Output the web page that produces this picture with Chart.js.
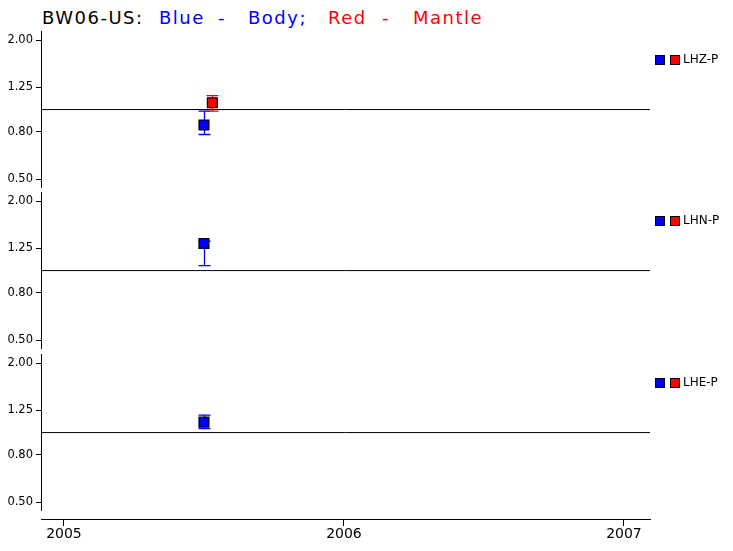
<!DOCTYPE html>
<html>
<head>
<meta charset="utf-8">
<script src="https://cdn.jsdelivr.net/npm/chart.js@4/dist/chart.umd.min.js"></script>
<style>
body { margin: 0; background: #fff; }
#wrap { position: relative; width: 733px; height: 551px; overflow: hidden; }
#wrap canvas { position: absolute; left: 0; }
.t { position: absolute; top: 9px; font: 18px "DejaVu Sans"; line-height: 18px; letter-spacing: 1.5px; white-space: pre; }
</style>
</head>
<body>
<div id="wrap">
  <span class="t" style="left:42px;color:#000">BW06-US:</span>
  <span class="t" style="left:159px;color:#0000ff">Blue</span>
  <span class="t" style="left:218px;color:#0000ff">-</span>
  <span class="t" style="left:248px;color:#0000ff">Body;</span>
  <span class="t" style="left:328px;color:#ff0000">Red</span>
  <span class="t" style="left:382px;color:#ff0000">-</span>
  <span class="t" style="left:413px;color:#ff0000">Mantle</span>
</div>
<script>
// Values (log y scale, one panel per component)
const stations    = ['LHZ-P', 'LHN-P', 'LHE-P'];
const bodyDate    = [2005.50, 2005.50, 2005.50];
const bodyValue   = [0.857, 1.31, 1.11];
const bodyLow     = [0.78, 1.05, 1.04];
const bodyHigh    = [0.985, 1.34, 1.19];
const mantleDate  = [2005.53, null, null];
const mantleValue = [1.07, null, null];
const mantleLow   = [0.985, null, null];
const mantleHigh  = [1.15, null, null];

const yTicks = [0.5, 0.8, 1.25, 2.0];
const xTicks = [2005, 2006, 2007];
const xMin = 2004.918, xMax = 2007.093;
const yMin = 0.462, yMax = 2.19;

const BLUE = '#0000ff';
const RED  = '#ff0000';

Chart.defaults.font.family = '"DejaVu Sans", sans-serif';
Chart.defaults.color = '#000';

// Error bars, drawn just before the markers so the squares sit on top
const errorBars = {
	id: 'errorBars',
	beforeDatasetDraw(chart, args, opts) {
		if (args.index !== 1) return;
		const i = opts.panel;
		const {ctx, scales: {x, y}} = chart;
		const bars = [
			[bodyDate[i], bodyLow[i], bodyHigh[i], BLUE],
			[mantleDate[i], mantleLow[i], mantleHigh[i], RED],
		];
		ctx.save();
		ctx.lineWidth = 1.3;
		bars.forEach(([d, lo, hi, c]) => {
			if (d == null) return;
			const px = Math.round(x.getPixelForValue(d)) + 0.5;
			const top = y.getPixelForValue(hi);
			const bot = y.getPixelForValue(lo);
			ctx.strokeStyle = c;
			ctx.beginPath();
			ctx.moveTo(px, top); ctx.lineTo(px, bot);
			ctx.moveTo(px - 6, top); ctx.lineTo(px + 6, top);
			ctx.moveTo(px - 6, bot); ctx.lineTo(px + 6, bot);
			ctx.stroke();
		});
		ctx.restore();
	}
};

// Little legend to the right of each panel
const sideLegend = {
	id: 'sideLegend',
	afterDraw(chart, args, opts) {
		const {ctx, chartArea} = chart;
		const cy = Math.round(chartArea.top + 29);
		const x0 = Math.round(chartArea.right + 5);
		ctx.save();
		[[BLUE, 0], [RED, 15]].forEach(([c, dx]) => {
			ctx.fillStyle = c;
			ctx.fillRect(x0 + dx, cy - 5, 10, 10);
			ctx.strokeStyle = '#000';
			ctx.lineWidth = 1;
			ctx.strokeRect(x0 + dx + 0.5, cy - 4.5, 9, 9);
		});
		ctx.fillStyle = '#000';
		ctx.font = '12px "DejaVu Sans"';
		ctx.textBaseline = 'middle';
		ctx.fillText(stations[opts.panel], x0 + 28, cy);
		ctx.restore();
	}
};

const wrap = document.getElementById('wrap');
const panelTops = [31, 192, 354];
const panelH = 156;
const pad = 10;

function addCanvas(top, height) {
	const c = document.createElement('canvas');
	c.width = 733;
	c.height = height;
	c.style.top = top + 'px';
	wrap.appendChild(c);
	return c;
}

stations.forEach((name, i) => {
	const cv = addCanvas(panelTops[i] - pad, panelH + 2 * pad);
	new Chart(cv, {
		type: 'scatter',
		data: {
			datasets: [
				{
					label: 'Body',
					data: [{x: bodyDate[i], y: bodyValue[i]}],
					pointStyle: 'rect',
					pointRadius: 7,
					backgroundColor: BLUE,
					borderColor: '#000',
					borderWidth: 1.2,
				},
				{
					label: 'Mantle',
					data: mantleDate[i] == null ? [] : [{x: mantleDate[i], y: mantleValue[i]}],
					pointStyle: 'rect',
					pointRadius: 7,
					backgroundColor: RED,
					borderColor: '#000',
					borderWidth: 1.2,
				},
				{
					label: 'ref',
					data: [{x: xMin, y: 1}, {x: xMax, y: 1}],
					showLine: true,
					borderColor: '#000',
					borderWidth: 1,
					pointRadius: 0,
				},
			],
		},
		options: {
			responsive: false,
			animation: false,
			events: [],
			layout: { padding: { top: pad, bottom: pad, left: 0, right: 83 } },
			plugins: {
				legend: { display: false },
				tooltip: { enabled: false },
				errorBars: { panel: i },
				sideLegend: { panel: i },
			},
			scales: {
				x: { type: 'linear', display: false, min: xMin, max: xMax },
				y: {
					type: 'logarithmic',
					min: yMin,
					max: yMax,
					afterBuildTicks: s => { s.ticks = yTicks.map(v => ({value: v})); },
					afterFit: s => { s.width = 41; s.paddingTop = 0; s.paddingBottom = 0; },
					ticks: { callback: v => Number(v).toFixed(2), font: { size: 11.5 }, padding: 3, color: '#000' },
					grid: { drawOnChartArea: false, tickLength: 5, color: '#000' },
					border: { color: '#000', width: 1 },
				},
			},
		},
		plugins: [errorBars, sideLegend],
	});
});

// Shared time axis along the bottom
const axisCv = addCanvas(489, 62);
new Chart(axisCv, {
	type: 'scatter',
	data: { datasets: [] },
	options: {
		responsive: false,
		animation: false,
		events: [],
		layout: { padding: { top: 0, bottom: 0, left: 41, right: 83 } },
		plugins: { legend: { display: false }, tooltip: { enabled: false } },
		scales: {
			y: { display: false, min: 0, max: 1 },
			x: {
				type: 'linear',
				min: xMin,
				max: xMax,
				afterBuildTicks: s => { s.ticks = xTicks.map(v => ({value: v})); },
				afterFit: s => { s.height = 32; s.paddingLeft = 0; s.paddingRight = 0; },
				ticks: { callback: v => String(v), font: { size: 14 }, padding: 0, color: '#000', maxRotation: 0 },
				grid: { drawOnChartArea: false, tickLength: 7, color: '#000' },
				border: { color: '#000', width: 1 },
			},
		},
	},
});
</script>
</body>
</html>
